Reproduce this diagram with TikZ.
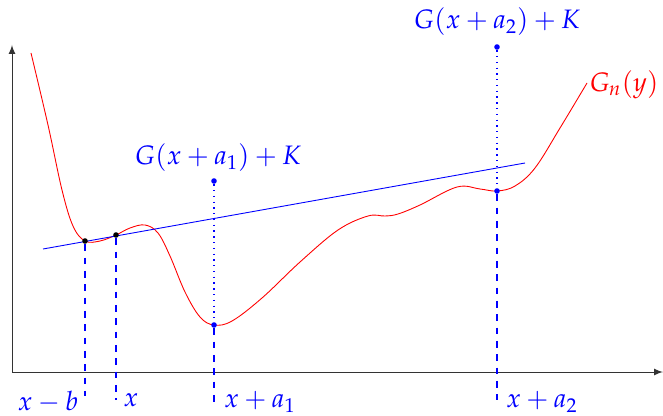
\documentclass[tikz,border=0pt]{standalone}
\usepackage{amsmath,amssymb}
\usepackage{mathpazo}
\usepackage{tikz}
\usetikzlibrary{arrows.meta,calc,positioning}

\begin{document}
\begin{tikzpicture}[x=0.45pt, y=-0.45pt,
  dot/.style={circle, fill=#1, inner sep=0pt, minimum size=2.5pt},
  guide/.style={draw=blue, line width=0.6pt},
  lbl/.style={text=blue, font=\large}]

\useasboundingbox (0,0) rectangle (663,415);

% axes
\coordinate (O) at (12,372);
\coordinate (xend) at (663,372);
\coordinate (yend) at (12,45);
\draw[-latex, black!80] (O) -- (xend);
\draw[-latex, black!80] (O) -- (yend);

% G_n
\draw[red] plot[smooth, tension=0.6] coordinates {
  (31,53) (48,125) (62,190) (73,226) (85,241) (100,241) (116,235)
  (130,228) (145,225) (158,233) (170,256) (185,292) (200,317) (214,325)
  (232,321) (262,298) (300,262) (338,230) (368,216) (385,216) (398,214)
  (420,205) (457,187) (480,189) (497,191) (515,186) (535,168) (560,128)
  (587,83)};
\node[text=red, font=\large] (gn) at (624,85) {$G_n(y)$};

% tangent line
\coordinate (l0) at (43,249);
\coordinate (l1) at (525,163);
\draw[blue] (l0) -- (l1);

% points
\node[dot=black] (p0) at (85,241) {};
\node[dot=black] (p1) at (116,235) {};
\node[dot=blue] (p2) at (214,325) {};
\node[dot=blue] (q2) at (214,181) {};
\node[dot=blue] (p3) at (497,191) {};
\node[dot=blue] (q3) at (497,47) {};

\coordinate (b0) at (85,396);
\coordinate (b1) at (116,400);
\coordinate (b2) at (214,404);
\coordinate (b3) at (497,400);

\draw[guide, dashed] (p0) -- (b0);
\draw[guide, dashed] (p1) -- (b1);
\draw[guide, dashed] (p2) -- (b2);
\draw[guide, dashed] (p3) -- (b3);
\draw[guide, dotted] (q2) -- (p2);
\draw[guide, dotted] (q3) -- (p3);

\node[lbl] (t2) at (218,158) {$G(x+a_1)+K$};
\node[lbl] (t3) at (497,22) {$G(x+a_2)+K$};

\node[lbl] (xb) at (48,402) {$x-b$};
\node[lbl] (x0) at (131,400) {$x$};
\node[lbl] (xa1) at (260,402) {$x+a_1$};
\node[lbl] (xa2) at (542,402) {$x+a_2$};

\end{tikzpicture}
\end{document}
